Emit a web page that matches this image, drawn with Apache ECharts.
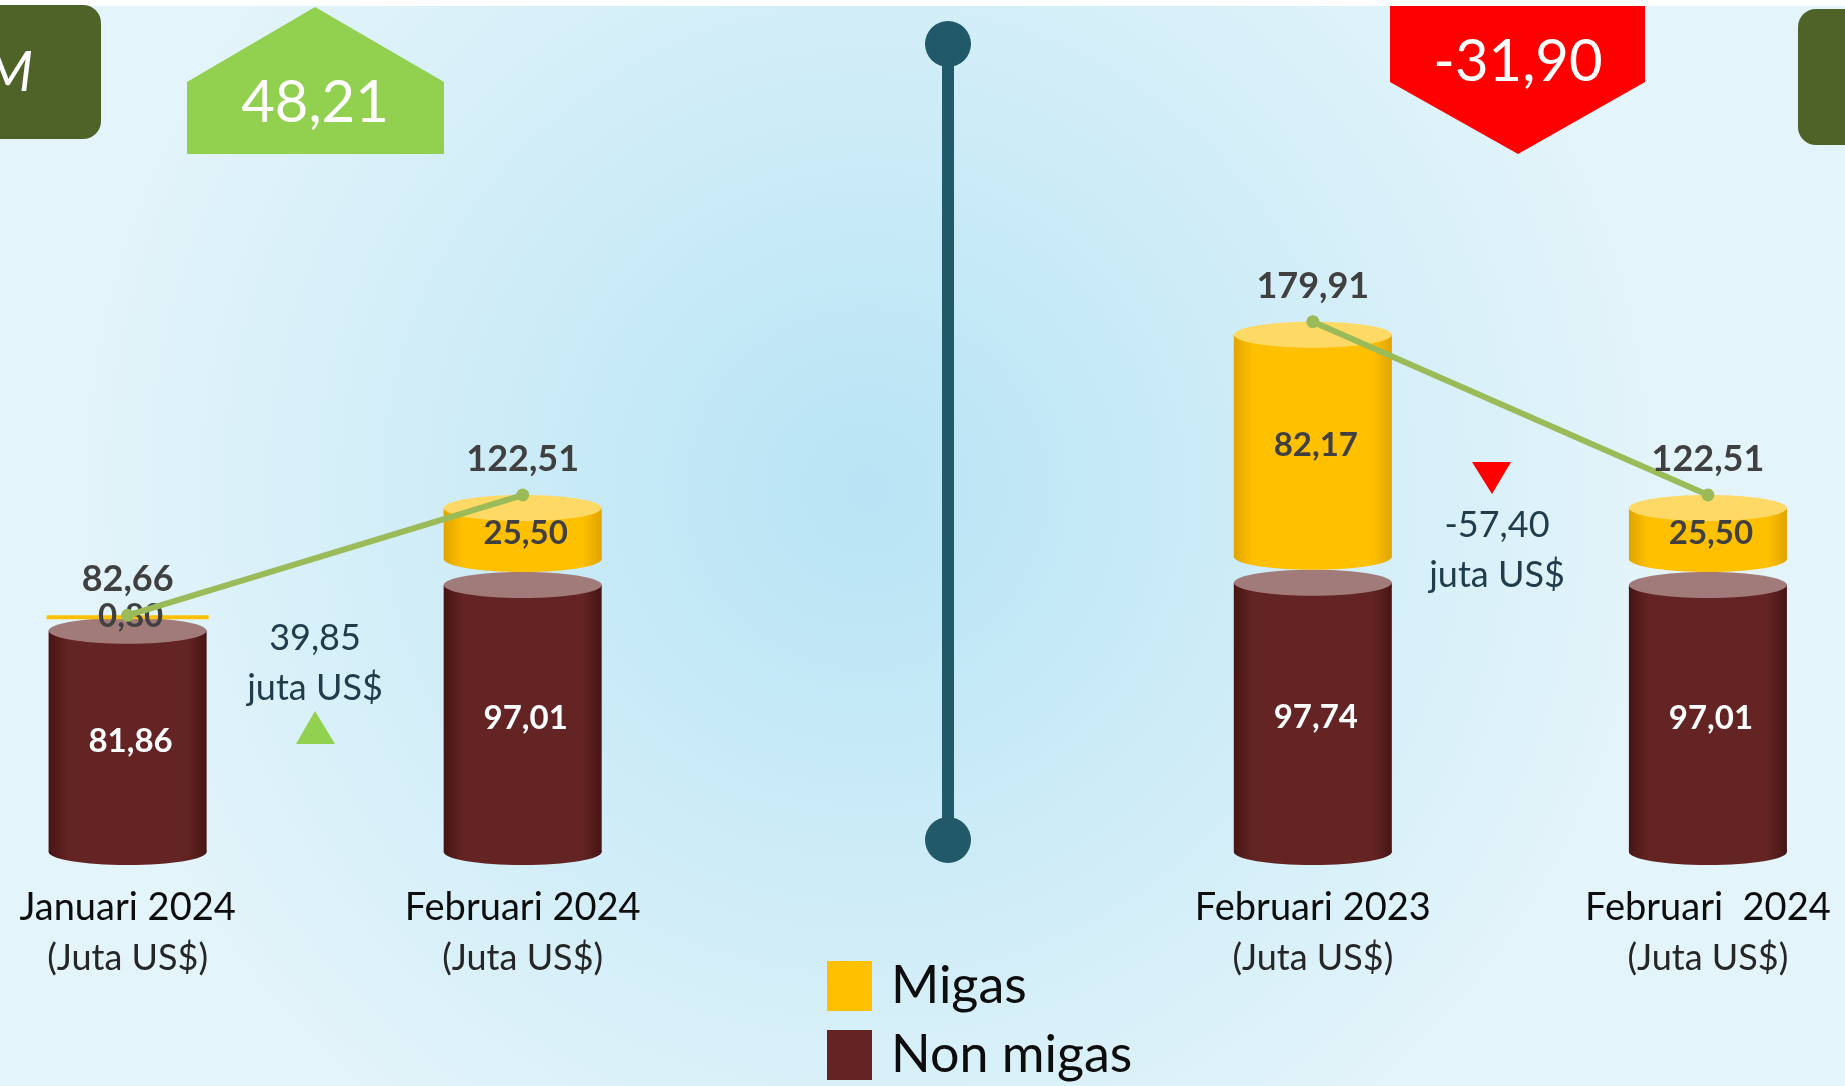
<!DOCTYPE html>
<html>
<head>
<meta charset="UTF-8">
<title>Ekspor Migas / Non migas</title>
<style type="text/css">
   html,body{
      margin:0;
      padding:0;
   }
   #container{
      width:1845px;
      height:1086px;
   }
</style>
</head>
<body>
<div id="container"></div>
<script src="https://cdn.jsdelivr.net/npm/echarts@6/dist/echarts.min.js"></script>
<script type="text/javascript">
// data (juta US$); the empty slot is the divider
var categories = ['Januari 2024', 'Februari 2024', '', 'Februari 2023', 'Februari  2024'];
var migas = [0.80, 25.50, null, 82.17, 25.50];
var nonMigas = [81.86, 97.01, null, 97.74, 97.01];
var total = [82.66, 122.51, null, 179.91, 122.51];
var changeMtm = 39.85;    // Feb 2024 vs Jan 2024
var changeYoy = -57.40;   // Feb 2024 vs Feb 2023
var pctMtm = 48.21;
var pctYoy = -31.90;

var FONT = 'Lato';

function fmt(v){
    return v.toFixed(2).replace('.', ',');
}

var migasData = [], nonData = [], totalData = [], labelSlots = [];
for (var i = 0; i < categories.length; i++) {
    if (nonMigas[i] == null) {
        totalData.push([i, '-']);
        continue;
    }
    labelSlots.push(i);
    nonData.push([i, 0, nonMigas[i], nonMigas[i]]);
    migasData.push([i, nonMigas[i], total[i], migas[i]]);
    totalData.push([i, total[i]]);
}

var pal = {
    'Migas': {base:'#ffc000', edge:'#e0a400', cap:'#ffd966', text:'#404040'},
    'Non migas': {base:'#632423', edge:'#461514', cap:'#a07b79', text:'#ffffff'}
};

function sideFill(c){
    return {
        type:'linear', x:0, y:0, x2:1, y2:0,
        colorStops:[
            {offset:0, color:c.edge},
            {offset:0.12, color:c.base},
            {offset:0.88, color:c.base},
            {offset:1, color:c.edge}
        ]
    };
}

function renderCylinder(params, api){
    var idx = api.value(0);
    var top = api.coord([idx, api.value(2)]);
    var bot = api.coord([idx, api.value(1)]);
    var cx = top[0];
    var rx = api.size([1, 0])[0] * 0.2;
    var ry = 13;
    var h = bot[1] - top[1];
    var c = pal[params.seriesName];
    var children = [];
    if (h < ry * 2 + 2) {
        // very thin segment: flat slab
        children.push({
            type:'rect',
            shape:{x:cx - rx - 2, y:top[1], width:rx * 2 + 4, height:Math.max(h, 4)},
            style:{fill:c.base}
        });
    } else {
        var y1 = top[1] + ry, y2 = bot[1] - ry;
        children.push({type:'ellipse', shape:{cx:cx, cy:y2, rx:rx, ry:ry}, style:{fill:sideFill(c)}});
        children.push({type:'rect', shape:{x:cx - rx, y:y1, width:rx * 2, height:y2 - y1}, style:{fill:sideFill(c)}});
        children.push({type:'ellipse', shape:{cx:cx, cy:y1, rx:rx, ry:ry}, style:{fill:c.cap}});
    }
    children.push({
        type:'text',
        style:{
            text:fmt(api.value(3)),
            x:cx + 3, y:(top[1] + bot[1]) / 2,
            align:'center', verticalAlign:'middle',
            fill:c.text, font:'bold 33px ' + FONT
        }
    });
    return {type:'group', children:children};
}

var dom = document.getElementById("container");
var myChart = echarts.init(dom);

var option = {
    backgroundColor:new echarts.graphic.RadialGradient(0.47, 0.45, 0.72, [
        {offset:0, color:'#b8e4f5'},
        {offset:1, color:'#e3f4fa'}
    ]),
    animation:false,
    grid:{left:0, right:0, top:261, bottom:221},
    legend:{
        data:['Migas', 'Non migas'],
        orient:'vertical',
        left:827, top:960,
        padding:0,
        icon:'rect',
        itemWidth:45, itemHeight:50, itemGap:17,
        textStyle:{fontFamily:FONT, fontSize:52, color:'#0d0d0d', padding:[8, 0, 0, 14]}
    },
    xAxis:{
        type:'value',
        min:-0.323,
        max:4.347,
        splitLine:{show:false},
        axisLine:{show:false},
        axisTick:{show:false},
        axisLabel:{
            customValues:labelSlots,
            margin:18,
            formatter:function(v){
                return '{a|' + categories[Math.round(v)] + '}\n{b|(Juta US$)}';
            },
            rich:{
                a:{fontFamily:FONT, fontSize:38, color:'#0d0d0d', lineHeight:50},
                b:{fontFamily:FONT, fontSize:36, color:'#262626', lineHeight:50}
            }
        }
    },
    yAxis:{type:'value', min:0, max:200, show:false},
    series:[
        {
            name:'Non migas',
            type:'custom',
            renderItem:renderCylinder,
            itemStyle:{color:'#632423'},
            encode:{x:0, y:[1, 2]},
            data:nonData,
            z:2
        },
        {
            name:'Migas',
            type:'custom',
            renderItem:renderCylinder,
            itemStyle:{color:'#ffc000'},
            encode:{x:0, y:[1, 2]},
            data:migasData,
            z:3
        },
        {
            name:'Total',
            type:'line',
            data:totalData,
            connectNulls:false,
            symbol:'circle',
            symbolSize:13,
            itemStyle:{color:'#9bbb59'},
            lineStyle:{color:'#9bbb59', width:6},
            label:{
                show:true,
                position:'top',
                distance:11,
                formatter:function(p){ return fmt(p.value[1]); },
                fontFamily:FONT, fontSize:36, fontWeight:'bold', color:'#404040'
            },
            z:5
        }
    ],
    graphic:[
        {type:'rect', shape:{x:0, y:0, width:1845, height:6}, style:{fill:'#ffffff'}, z:1},
        // left dark badge (cut by the edge)
        {type:'rect', shape:{x:-30, y:5, width:131, height:134, r:18}, style:{fill:'#4f6228'}, z:2},
        {type:'text', style:{text:'M', x:33, y:73, align:'right', verticalAlign:'middle',
            fill:'#ffffff', font:'italic 56px ' + FONT}, z:3},
        // right dark badge
        {type:'rect', shape:{x:1798, y:9, width:100, height:136, r:18}, style:{fill:'#4f6228'}, z:2},
        // percent change badges
        {type:'polygon', shape:{points:[[187,154],[187,82],[315,7],[444,82],[444,154]]},
            style:{fill:'#92d050'}, z:2},
        {type:'text', style:{text:fmt(pctMtm), x:315, y:103, align:'center', verticalAlign:'middle',
            fill:'#ffffff', font:'58px ' + FONT}, z:3},
        {type:'polygon', shape:{points:[[1390,6],[1645,6],[1645,82],[1518,154],[1390,82]]},
            style:{fill:'#ff0000'}, z:2},
        {type:'text', style:{text:fmt(pctYoy), x:1518, y:62, align:'center', verticalAlign:'middle',
            fill:'#ffffff', font:'58px ' + FONT}, z:3},
        // divider
        {type:'line', shape:{x1:948, y1:44, x2:948, y2:840}, style:{stroke:'#215968', lineWidth:12}, z:2},
        {type:'circle', shape:{cx:948, cy:44, r:23}, style:{fill:'#215968'}, z:2},
        {type:'circle', shape:{cx:948, cy:840, r:23}, style:{fill:'#215968'}, z:2},
        // change between bars
        {type:'text', style:{text:fmt(changeMtm) + '\njuta US$', x:315, y:663, align:'center', verticalAlign:'middle',
            fill:'#213d4c', font:'36px ' + FONT, lineHeight:50}, z:3},
        {type:'polygon', shape:{points:[[296,744],[315,711],[335,744]]}, style:{fill:'#92d050'}, z:3},
        {type:'text', style:{text:fmt(changeYoy) + '\njuta US$', x:1497, y:550, align:'center', verticalAlign:'middle',
            fill:'#213d4c', font:'36px ' + FONT, lineHeight:50}, z:3},
        {type:'polygon', shape:{points:[[1472,462],[1511,462],[1492,494]]}, style:{fill:'#ff0000'}, z:3}
    ]
};

myChart.setOption(option, true);
</script>
</body>
</html>
